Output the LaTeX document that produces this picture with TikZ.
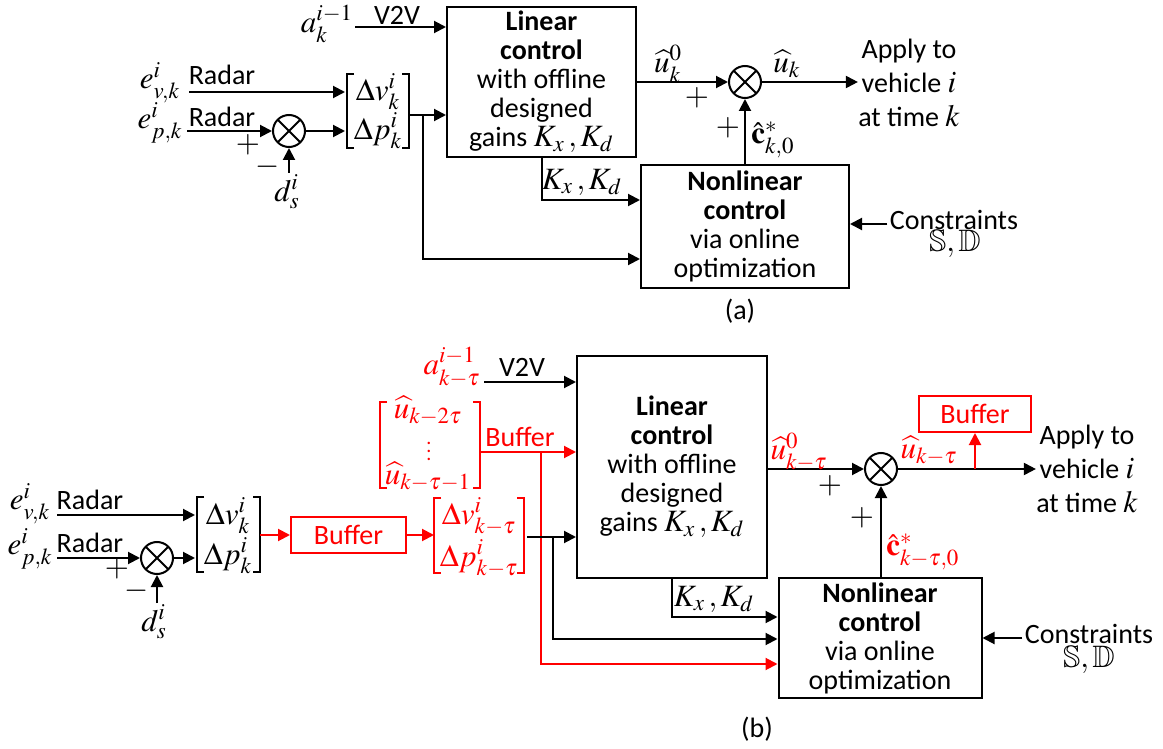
\documentclass[tikz,border=0pt]{standalone}
\usepackage{amssymb}
\usepackage{mathptmx}
\usepackage[no-math]{fontspec}
\setmainfont{Carlito}
\usetikzlibrary{arrows.meta,calc}
\newcommand{\mth}[1]{{\fontsize{15.5}{14.5}\selectfont$#1$}}
\tikzset{
  ln/.style={line width=1pt},
  arr/.style={line width=1pt,-{Triangle[length=6pt,width=6pt]}},
  txt/.style={inner sep=0pt, font=\fontsize{14}{14.5}\selectfont, align=center},
  mtxt/.style={inner sep=0pt, font=\fontsize{15.5}{17}\selectfont, align=center},
  box/.style={draw, line width=1pt, inner sep=0pt, align=center, font=\fontsize{14}{14.5}\selectfont},
  sumc/.style={draw, circle, line width=1pt, minimum size=16pt, inner sep=0pt,
    path picture={\draw[line width=1pt] (path picture bounding box.north west) -- (path picture bounding box.south east)
      (path picture bounding box.north east) -- (path picture bounding box.south west);}},
  rtxt/.style={mtxt, text=red},
}
\begin{document}
\begin{tikzpicture}[x=0.5pt,y=-0.5pt]
\useasboundingbox (0,0) rectangle (1163,749);
% ================= (a) =================
\node[box, minimum width=94.5pt, minimum height=75pt] (linA) at (541.5,82)
  {\textbf{Linear}\\\textbf{control}\\with offline\\designed\\gains \mth{K_x\,,K_d}};
\node[box, minimum width=104pt, minimum height=61.5pt] (nlA) at (745,226.5)
  {\textbf{Nonlinear}\\\textbf{control}\\via online\\optimization};
\node[sumc] (sA) at (745,82) {};
\node[sumc] (sLA) at (289,131) {};
% V2V input
\node[mtxt] (alabA) at (327,24) {$a_k^{i-1}$};
\node[txt] (v2vA) at (397,15) {V2V};
\coordinate (aA) at (355,27);
\draw[arr] (aA) -- (aA -| linA.west);
% radar inputs
\node[mtxt] (evA) at (160,83) {$e^i_{v,k}$};
\node[txt] (r1A) at (222,75) {Radar};
\node[mtxt] (epA) at (160,123) {$e^i_{p,k}$};
\node[txt] (r2A) at (222,117) {Radar};
\coordinate (ev0A) at (189,92);
\coordinate (ev1A) at (345,92);
\draw[arr] (ev0A) -- (ev1A);
\coordinate (ep0A) at (187,131);
\draw[arr] (ep0A) -- (sLA.west);
\coordinate (sLoA) at (345,131);
\draw[arr] (sLA.east) -- (sLoA);
\coordinate (dA) at (289,173);
\draw[arr] (dA) -- (sLA.south);
\node[mtxt] (dlabA) at (287,192) {$d_s^i$};
\node[mtxt] (plA) at (248,145) {$+$};
\node[mtxt] (miA) at (268,167) {$-$};
% bracket (a)
\draw[ln] (354,74) -- (347,74) -- (347,148) -- (354,148);
\draw[ln] (402,74) -- (409,74) -- (409,148) -- (402,148);
\node[mtxt] (dvA) at (378,92) {$\Delta v_k^i$};
\node[mtxt] (dpA) at (378,131) {$\Delta p_k^i$};
\coordinate (oA) at (409,115);
\draw[arr] (oA) -- (oA -| linA.west);
\coordinate (jA) at (423,115);
\draw[arr] (jA) |- (nlA.west |- 0,259);
% gains
\draw[arr] (linA.south) |- (nlA.west |- 0,200);
\node[mtxt] (kA) at (582,182) {$K_x\,,K_d$};
% output (a)
\draw[arr] (linA.east |- sA) -- (sA.west);
\node[mtxt] (u0A) at (668,64) {$\widehat{u}_k^0$};
\node[mtxt] (p1A) at (697,98) {$+$};
\node[txt, font=\fontsize{14}{17}\selectfont] (outA) at (909,83) {Apply to\\vehicle \mth{i}\\at time \mth{k}};
\draw[arr] (sA.east) -- (outA.west |- sA);
\node[mtxt] (ukA) at (787,64) {$\widehat{u}_k$};
\draw[arr] (nlA.north) -- (sA.south);
\node[mtxt] (p2A) at (728,128) {$+$};
\node[mtxt, anchor=west] (cA) at (751,140) {$\hat{\mathbf{c}}^*_{k,0}$};
% constraints (a)
\node[txt] (con1A) at (954,220) {Constraints};
\node[mtxt] (con2A) at (955,244) {$\mathbb{S},\mathbb{D}$};
\draw[arr] ([xshift=-1pt]con1A.west |- 0,224) -- (nlA.east |- 0,224);
\node[txt] (capA) at (740,311) {(a)};
% ================= (b) =================
\node[box, minimum width=95pt, minimum height=111pt] (linB) at (672,467)
  {\textbf{Linear}\\\textbf{control}\\with offline\\designed\\gains \mth{K_x\,,K_d}};
\node[box, minimum width=101.5pt, minimum height=60pt] (nlB) at (880,638)
  {\textbf{Nonlinear}\\\textbf{control}\\via online\\optimization};
\node[sumc] (sB) at (881,469) {};
\node[sumc] (sLB) at (157,558) {};
% V2V (b)
\node[rtxt] (alabB) at (452,367) {$a_{k-\tau}^{i-1}$};
\node[txt] (v2vB) at (522,367) {V2V};
\coordinate (aB) at (484,382);
\draw[arr] (aB) -- (aB -| linB.west);
% u-hat bracket
\draw[ln, red] (387,402) -- (380,402) -- (380,488) -- (387,488);
\draw[ln, red] (473,402) -- (480,402) -- (480,488) -- (473,488);
\node[rtxt] (u1B) at (428,411) {$\widehat{u}_{k-2\tau}$};
\node[rtxt, font=\fontsize{10}{10}\selectfont] (u2B) at (429,445) {$\vdots$};
\node[rtxt] (u3B) at (428,477) {$\widehat{u}_{k-\tau-1}$};
\node[txt, text=red] (bufTB) at (520,437) {Buffer};
\coordinate (uoB) at (480,452);
\draw[arr, red] (uoB) -- (uoB -| linB.west);
\coordinate (rjB) at (541,452);
\draw[arr, red] (rjB) |- (nlB.west |- 0,664);
% radar (b)
\node[mtxt] (evB) at (30,504) {$e^i_{v,k}$};
\node[txt] (r1B) at (90,500) {Radar};
\node[mtxt] (epB) at (30,549) {$e^i_{p,k}$};
\node[txt] (r2B) at (90,543) {Radar};
\coordinate (ev0B) at (57,515);
\coordinate (ev1B) at (195,515);
\draw[arr] (ev0B) -- (ev1B);
\coordinate (ep0B) at (57,558);
\draw[arr] (ep0B) -- (sLB.west);
\coordinate (sLoB) at (195,558);
\draw[arr] (sLB.east) -- (sLoB);
\coordinate (dB) at (157,603);
\draw[arr] (dB) -- (sLB.south);
\node[mtxt] (dlabB) at (154,622) {$d_s^i$};
\node[mtxt] (plB) at (117,569) {$+$};
\node[mtxt] (miB) at (137,591) {$-$};
% bracket (b) black
\draw[ln] (204,497) -- (197,497) -- (197,572) -- (204,572);
\draw[ln] (253,497) -- (260,497) -- (260,572) -- (253,572);
\node[mtxt] (dvB) at (228,516) {$\Delta v_k^i$};
\node[mtxt] (dpB) at (228,556) {$\Delta p_k^i$};
% buffer (b) left
\node[box, draw=red, text=red, minimum width=57.5pt, minimum height=18pt] (bufL) at (348.5,535) {Buffer};
\coordinate (boB) at (260,535);
\draw[arr, red] (boB) -- (bufL.west);
\coordinate (rbB) at (434,535);
\draw[arr, red] (bufL.east) -- (rbB);
% red bracket
\draw[ln, red] (441,498) -- (434,498) -- (434,573) -- (441,573);
\draw[ln, red] (517,498) -- (524,498) -- (524,573) -- (517,573);
\node[rtxt] (dvtB) at (479,517) {$\Delta v_{k-\tau}^i$};
\node[rtxt] (dptB) at (479,559) {$\Delta p_{k-\tau}^i$};
\coordinate (oB) at (527,537);
\draw[arr] (oB) -- (oB -| linB.west);
\coordinate (jB) at (553,537);
\draw[arr] (jB) |- (nlB.west |- 0,639);
% gains (b)
\draw[arr] (linB.south) |- (nlB.west |- 0,617);
\node[mtxt] (kB) at (714,599) {$K_x\,,K_d$};
% output (b)
\draw[arr] (linB.east |- sB) -- (sB.west);
\node[rtxt] (u0B) at (799,452) {$\widehat{u}_{k-\tau}^0$};
\node[mtxt] (p1B) at (830,486) {$+$};
\node[txt, font=\fontsize{14}{17}\selectfont] (outB) at (1087,469) {Apply to\\vehicle \mth{i}\\at time \mth{k}};
\draw[arr] (sB.east) -- (outB.west |- sB);
\node[rtxt] (ukB) at (929,451) {$\widehat{u}_{k-\tau}$};
\node[box, draw=red, text=red, minimum width=56pt, minimum height=18pt] (bufR) at (975,414) {Buffer};
\draw[arr, red] (bufR.south |- sB) -- (bufR.south);
\draw[arr] (sB |- nlB.north) -- (sB.south);
\node[mtxt] (p2B) at (862,518) {$+$};
\node[rtxt, anchor=west] (cB) at (886,552) {$\hat{\mathbf{c}}^*_{k-\tau,0}$};
% constraints (b)
\node[txt] (con1B) at (1089,634) {Constraints};
\node[mtxt] (con2B) at (1089,660) {$\mathbb{S},\mathbb{D}$};
\draw[arr] ([xshift=-1pt]con1B.west |- 0,638) -- (nlB.east |- 0,638);
\node[txt] (capB) at (757,729) {(b)};
\end{tikzpicture}
\end{document}
